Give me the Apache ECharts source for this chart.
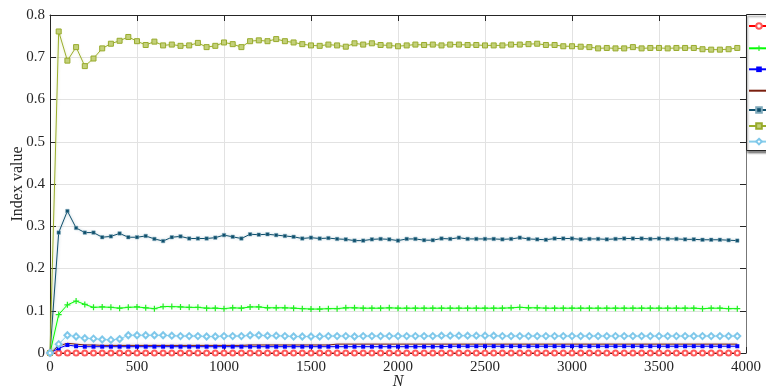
<!DOCTYPE html>
<html><head><meta charset="utf-8">
<script src="https://cdn.jsdelivr.net/npm/echarts@6/dist/echarts.min.js"></script>
<style>html,body{margin:0;padding:0;background:#fff}#c{width:766px;height:392px}</style>
</head><body><div id="c"></div>
<script>
const N = [0,50,100,150,200,250,300,350,400,450,
500,550,600,650,700,750,800,850,900,950,
1000,1050,1100,1150,1200,1250,1300,1350,1400,1450,
1500,1550,1600,1650,1700,1750,1800,1850,1900,1950,
2000,2050,2100,2150,2200,2250,2300,2350,2400,2450,
2500,2550,2600,2650,2700,2750,2800,2850,2900,2950,
3000,3050,3100,3150,3200,3250,3300,3350,3400,3450,
3500,3550,3600,3650,3700,3750,3800,3850,3900,3950];

const xTicks = [0,500,1000,1500,2000,2500,3000,3500,4000];
const yTicks = [0,0.1,0.2,0.3,0.4,0.5,0.6,0.7,0.8];

const seriesNames = ['Series 1','Series 2','Series 3','Series 4','Series 5','Series 6','Series 7'];

const redVals = [0,0,0,0,0,0,0,0,0,0,
0,0,0,0,0,0,0,0,0,0,
0,0,0,0,0,0,0,0,0,0,
0,0,0,0,0,0,0,0,0,0,
0,0,0,0,0,0,0,0,0,0,
0,0,0,0,0,0,0,0,0,0,
0,0,0,0,0,0,0,0,0,0,
0,0,0,0,0,0,0,0,0,0];

const greenVals = [0,0.091,0.114,0.123,0.115,0.108,0.109,0.108,0.106,0.108,
0.109,0.107,0.105,0.110,0.110,0.109,0.108,0.108,0.106,0.106,
0.105,0.107,0.106,0.109,0.109,0.107,0.107,0.107,0.106,0.105,
0.104,0.104,0.105,0.105,0.107,0.107,0.106,0.106,0.106,0.107,
0.106,0.106,0.106,0.106,0.106,0.106,0.106,0.106,0.106,0.106,
0.106,0.106,0.106,0.107,0.108,0.107,0.107,0.106,0.106,0.106,
0.106,0.106,0.106,0.106,0.106,0.106,0.106,0.106,0.106,0.106,
0.106,0.106,0.106,0.106,0.106,0.105,0.106,0.106,0.105,0.105];

const blueVals = [0,0.011,0.019,0.016,0.015,0.015,0.015,0.015,0.015,0.015,
0.015,0.015,0.015,0.015,0.015,0.015,0.015,0.015,0.015,0.015,
0.015,0.015,0.015,0.015,0.015,0.015,0.015,0.015,0.015,0.015,
0.015,0.015,0.015,0.015,0.015,0.015,0.015,0.015,0.015,0.015,
0.015,0.015,0.015,0.015,0.015,0.015,0.016,0.016,0.016,0.016,
0.016,0.016,0.016,0.016,0.016,0.016,0.016,0.016,0.016,0.016,
0.016,0.016,0.016,0.016,0.016,0.016,0.016,0.016,0.016,0.016,
0.016,0.016,0.016,0.016,0.016,0.016,0.016,0.016,0.016,0.016];

const darkRedVals = [0,0.017,0.023,0.021,0.019,0.019,0.018,0.018,0.018,0.018,
0.018,0.018,0.018,0.018,0.018,0.018,0.018,0.018,0.018,0.018,
0.018,0.018,0.018,0.019,0.019,0.019,0.019,0.019,0.019,0.019,
0.019,0.019,0.019,0.021,0.021,0.021,0.021,0.021,0.021,0.021,
0.021,0.021,0.021,0.021,0.021,0.021,0.021,0.021,0.021,0.021,
0.021,0.021,0.021,0.021,0.021,0.021,0.021,0.021,0.021,0.021,
0.021,0.021,0.021,0.021,0.021,0.021,0.021,0.021,0.021,0.021,
0.021,0.021,0.021,0.021,0.021,0.021,0.021,0.021,0.021,0.021];

const tealVals = [0,0.285,0.336,0.296,0.285,0.285,0.274,0.276,0.283,0.274,
0.274,0.277,0.270,0.265,0.274,0.276,0.271,0.271,0.271,0.273,
0.279,0.275,0.271,0.281,0.280,0.281,0.279,0.277,0.275,0.271,
0.273,0.271,0.272,0.270,0.269,0.266,0.266,0.269,0.270,0.269,
0.266,0.270,0.270,0.267,0.267,0.271,0.270,0.273,0.270,0.270,
0.270,0.270,0.269,0.270,0.273,0.270,0.269,0.268,0.271,0.271,
0.271,0.269,0.270,0.270,0.269,0.270,0.271,0.271,0.271,0.270,
0.271,0.270,0.270,0.269,0.269,0.268,0.268,0.268,0.267,0.266];

const oliveVals = [0,0.761,0.692,0.724,0.679,0.697,0.721,0.732,0.739,0.748,
0.738,0.729,0.737,0.728,0.730,0.727,0.728,0.734,0.724,0.727,
0.735,0.731,0.724,0.738,0.740,0.738,0.743,0.738,0.735,0.731,
0.728,0.727,0.730,0.728,0.725,0.733,0.730,0.733,0.729,0.728,
0.726,0.728,0.730,0.729,0.730,0.728,0.730,0.730,0.729,0.729,
0.728,0.728,0.728,0.730,0.730,0.731,0.732,0.729,0.729,0.726,
0.726,0.725,0.724,0.721,0.722,0.721,0.721,0.724,0.721,0.722,
0.722,0.721,0.722,0.722,0.722,0.719,0.718,0.718,0.719,0.722];

const lightBlueVals = [0,0.021,0.042,0.039,0.035,0.034,0.032,0.031,0.033,0.042,
0.042,0.042,0.042,0.042,0.041,0.040,0.040,0.040,0.039,0.039,
0.040,0.040,0.040,0.042,0.042,0.041,0.041,0.040,0.039,0.039,
0.039,0.039,0.040,0.040,0.040,0.039,0.040,0.040,0.040,0.040,
0.040,0.040,0.040,0.040,0.040,0.041,0.041,0.041,0.041,0.041,
0.041,0.041,0.040,0.040,0.040,0.040,0.040,0.040,0.040,0.040,
0.040,0.040,0.040,0.040,0.040,0.040,0.040,0.040,0.040,0.040,
0.040,0.040,0.040,0.040,0.040,0.040,0.040,0.040,0.040,0.040];

const FONT = 'Liberation Serif, Times New Roman, serif';
const AX = '#262626';
const plusPath = 'path://M4,0 L6,0 L6,4 L10,4 L10,6 L6,6 L6,10 L4,10 L4,6 L0,6 L0,4 L4,4 Z';

function mk(name, vals, line, symbol, size, item, halo) {
  return {
    type: 'line', name: name,
    data: N.map((n, i) => [n, vals[i]]),
    symbol: symbol, symbolSize: size, showAllSymbol: true,
    lineStyle: { color: line, width: 1, shadowColor: halo, shadowBlur: 3 },
    itemStyle: item,
    emphasis: { disabled: true },
    animation: false
  };
}

const series = [
  mk(seriesNames[0], redVals, '#ff0000', 'emptyCircle', 5, { color: '#ff5a5a', borderColor: '#ff5a5a', borderWidth: 1 }, 'rgba(255,0,0,0.4)'),
  mk(seriesNames[1], greenVals, '#00ff00', plusPath, 6, { color: '#22ee22' }, 'rgba(0,255,0,0.4)'),
  mk(seriesNames[2], blueVals, '#0000ff', 'rect', 4, { color: '#0000ff' }, 'rgba(0,0,255,0.4)'),
  mk(seriesNames[3], darkRedVals, '#7a1f0f', 'none', 0, { color: '#7a1f0f' }, 'rgba(122,31,15,0.35)'),
  mk(seriesNames[4], tealVals, '#0f4f6c', 'rect', 3.5, { color: '#0f4f6c', borderColor: '#7fa9bb', borderWidth: 0.5 }, 'rgba(15,79,108,0.35)'),
  mk(seriesNames[5], oliveVals, '#9aae2c', 'rect', 5, { color: '#c3d07a', borderColor: '#98ab2c', borderWidth: 1 }, 'rgba(154,174,44,0.35)'),
  mk(seriesNames[6], lightBlueVals, '#87ceeb', 'emptyDiamond', 6, { color: '#7fc8ea', borderColor: '#7fc8ea', borderWidth: 1 }, 'rgba(135,206,235,0.4)')
];

const legendCenters = [25.7, 48.3, 69.3, 90.7, 109.7, 125.7, 141.3];
const legends = seriesNames.map((nm, i) => {
  const lg = {
    show: true, data: [nm], orient: 'vertical', left: 746, top: legendCenters[i] - 3.5,
    itemWidth: 20, itemHeight: 7, padding: [0, 0, 0, 2], z: 10,
    textStyle: { fontFamily: FONT, fontSize: 7, lineHeight: 7, color: AX },
    selectedMode: false
  };
  if (i === 3) lg.itemStyle = { opacity: 0 };
  return lg;
});

const axisCommonX = {
  type: 'value', min: xTicks[0], max: xTicks[xTicks.length - 1], interval: xTicks[1] - xTicks[0]
};
const axisCommonY = {
  type: 'value', min: yTicks[0], max: yTicks[yTicks.length - 1], interval: 0.1
};

const option = {
  backgroundColor: '#fff',
  animation: false,
  grid: { left: 50, right: 20, top: 15, bottom: 39, containLabel: false, outerBoundsMode: 'none' },
  legend: legends,
  xAxis: [
    Object.assign({}, axisCommonX, {
      position: 'bottom', name: 'N', nameLocation: 'middle', nameGap: 21, nameMoveOverlap: false,
      nameTextStyle: { fontFamily: FONT, fontStyle: 'italic', fontSize: 16, color: AX },
      axisLine: { show: true, onZero: false, lineStyle: { color: AX, width: 1 } },
      axisTick: { show: true, inside: true, length: 6, lineStyle: { color: AX } },
      axisLabel: { fontFamily: FONT, fontSize: 15, color: AX, margin: 7, formatter: v => String(v) },
      splitLine: { show: true, lineStyle: { color: '#e2e2e2', width: 1 } }
    }),
    Object.assign({}, axisCommonX, {
      position: 'top',
      axisLine: { show: true, onZero: false, lineStyle: { color: AX, width: 1 } },
      axisTick: { show: true, inside: true, length: 6, lineStyle: { color: AX } },
      axisLabel: { show: false }, splitLine: { show: false }
    })
  ],
  yAxis: [
    Object.assign({}, axisCommonY, {
      position: 'left', name: 'Index value', nameLocation: 'middle', nameGap: 24, nameMoveOverlap: false,
      nameTextStyle: { fontFamily: FONT, fontSize: 16, color: AX },
      axisLine: { show: true, onZero: false, lineStyle: { color: AX, width: 1 } },
      axisTick: { show: true, inside: true, length: 6, lineStyle: { color: AX } },
      axisLabel: { fontFamily: FONT, fontSize: 15, color: AX, margin: 5 },
      splitLine: { show: true, lineStyle: { color: '#e2e2e2', width: 1 } }
    }),
    Object.assign({}, axisCommonY, {
      position: 'right',
      axisLine: { show: true, onZero: false, lineStyle: { color: '#777', width: 1 } },
      axisTick: { show: true, inside: true, length: 6, lineStyle: { color: AX } },
      axisLabel: { show: false }, splitLine: { show: false }
    })
  ],
  graphic: [{
    type: 'rect', left: 746, top: 14, z: 5,
    shape: { width: 40, height: 136 },
    style: { fill: '#fff', stroke: AX, lineWidth: 1, shadowColor: 'rgba(0,0,0,0.45)', shadowBlur: 2, shadowOffsetX: 1, shadowOffsetY: 2 }
  }],
  series: series
};

const chart = echarts.init(document.getElementById('c'), null, { renderer: 'canvas' });
chart.setOption(option);
</script>
</body></html>
